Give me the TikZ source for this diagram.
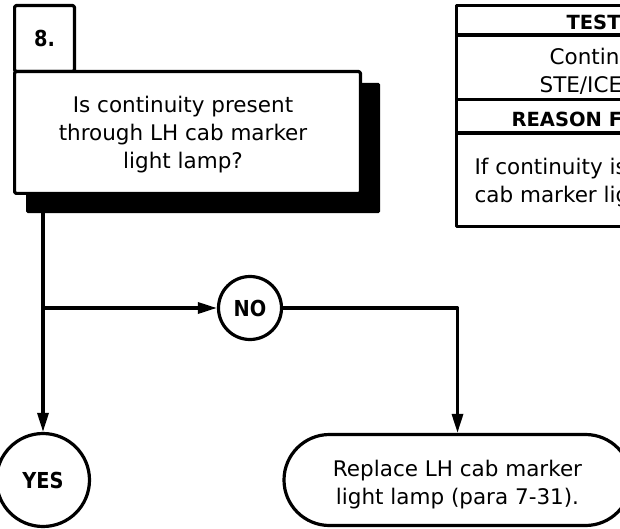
\documentclass[tikz,border=0pt]{standalone}
\usepackage{fontspec}
\setmainfont{DejaVu Sans}
\newfontfamily\lblfont{DejaVu Sans}[FakeStretch=0.88]
\usetikzlibrary{arrows.meta,shapes.misc}
\begin{document}
\begin{tikzpicture}[x=1pt,y=-1pt, line width=3.2pt, line join=round,
  box/.style={draw, rectangle, rounded corners=1.5pt, inner sep=0pt, fill=white},
  txt/.style={font=\fontsize{21.5}{28}\selectfont, align=center, inner sep=0pt},
  lbl/.style={font=\lblfont\bfseries\fontsize{22}{26}\selectfont},
  hdr/.style={font=\bfseries\fontsize{19.5}{24}\selectfont, anchor=base west, inner sep=0pt},
  tbl/.style={font=\fontsize{21.5}{28}\selectfont, anchor=base west, inner sep=0pt},
  term/.style={draw, circle, inner sep=0pt, fill=white},
  flow/.style={-{Triangle[length=19pt,width=11pt]}},
]
\useasboundingbox (0,0) rectangle (620,529);
% decision block
\node[fill=black, rounded corners=1.5pt, minimum width=354pt, minimum height=130pt, inner sep=0pt] (qs) at (203,148) {};
\node[box, minimum width=59.8pt, minimum height=66pt, lbl] (num) at (44.5,38.6) {8.};
\node[box, minimum width=345.8pt, minimum height=121.8pt] (q) at (187.5,132.5) {};
\node[txt] (qt) at (183,134.5) {Is continuity present\\through LH cab marker\\light lamp?};
% table
\draw (456.6,5.6) rectangle (660,226.4);
\draw (456.6,35) -- (660,35);
\draw (456.6,99.5) -- (660,99.5);
\draw (456.6,133) -- (660,133);
\node[hdr] (th) at (565,30) {TEST};
\node[tbl] (t1) at (548,65) {Continuity};
\node[tbl] (t2) at (538,93) {STE/ICE};
\node[hdr] (rh) at (510,127) {REASON FOR};
\node[tbl] (r1) at (473,175) {If continuity is};
\node[tbl] (r2) at (473,203) {cab marker light};
% terminals
\node[term, minimum size=93pt, lbl] (yes) at (43,480) {YES};
\node[term, minimum size=63pt, lbl] (no) at (250,308) {NO};
\node[draw, rounded rectangle, minimum width=347pt, minimum height=91pt, inner sep=0pt, fill=white] (rep) at (457.5,480) {};
\node[txt] (rt) at (457.5,485) {Replace LH cab marker\\light lamp (para 7-31).};
% connectors
\coordinate (start) at (43,213);
\coordinate (br) at (43,308);
\draw[flow] (start) -- (yes);
\draw[flow] (br) -- (no);
\draw[flow] (no) -| (rep);
\end{tikzpicture}
\end{document}
